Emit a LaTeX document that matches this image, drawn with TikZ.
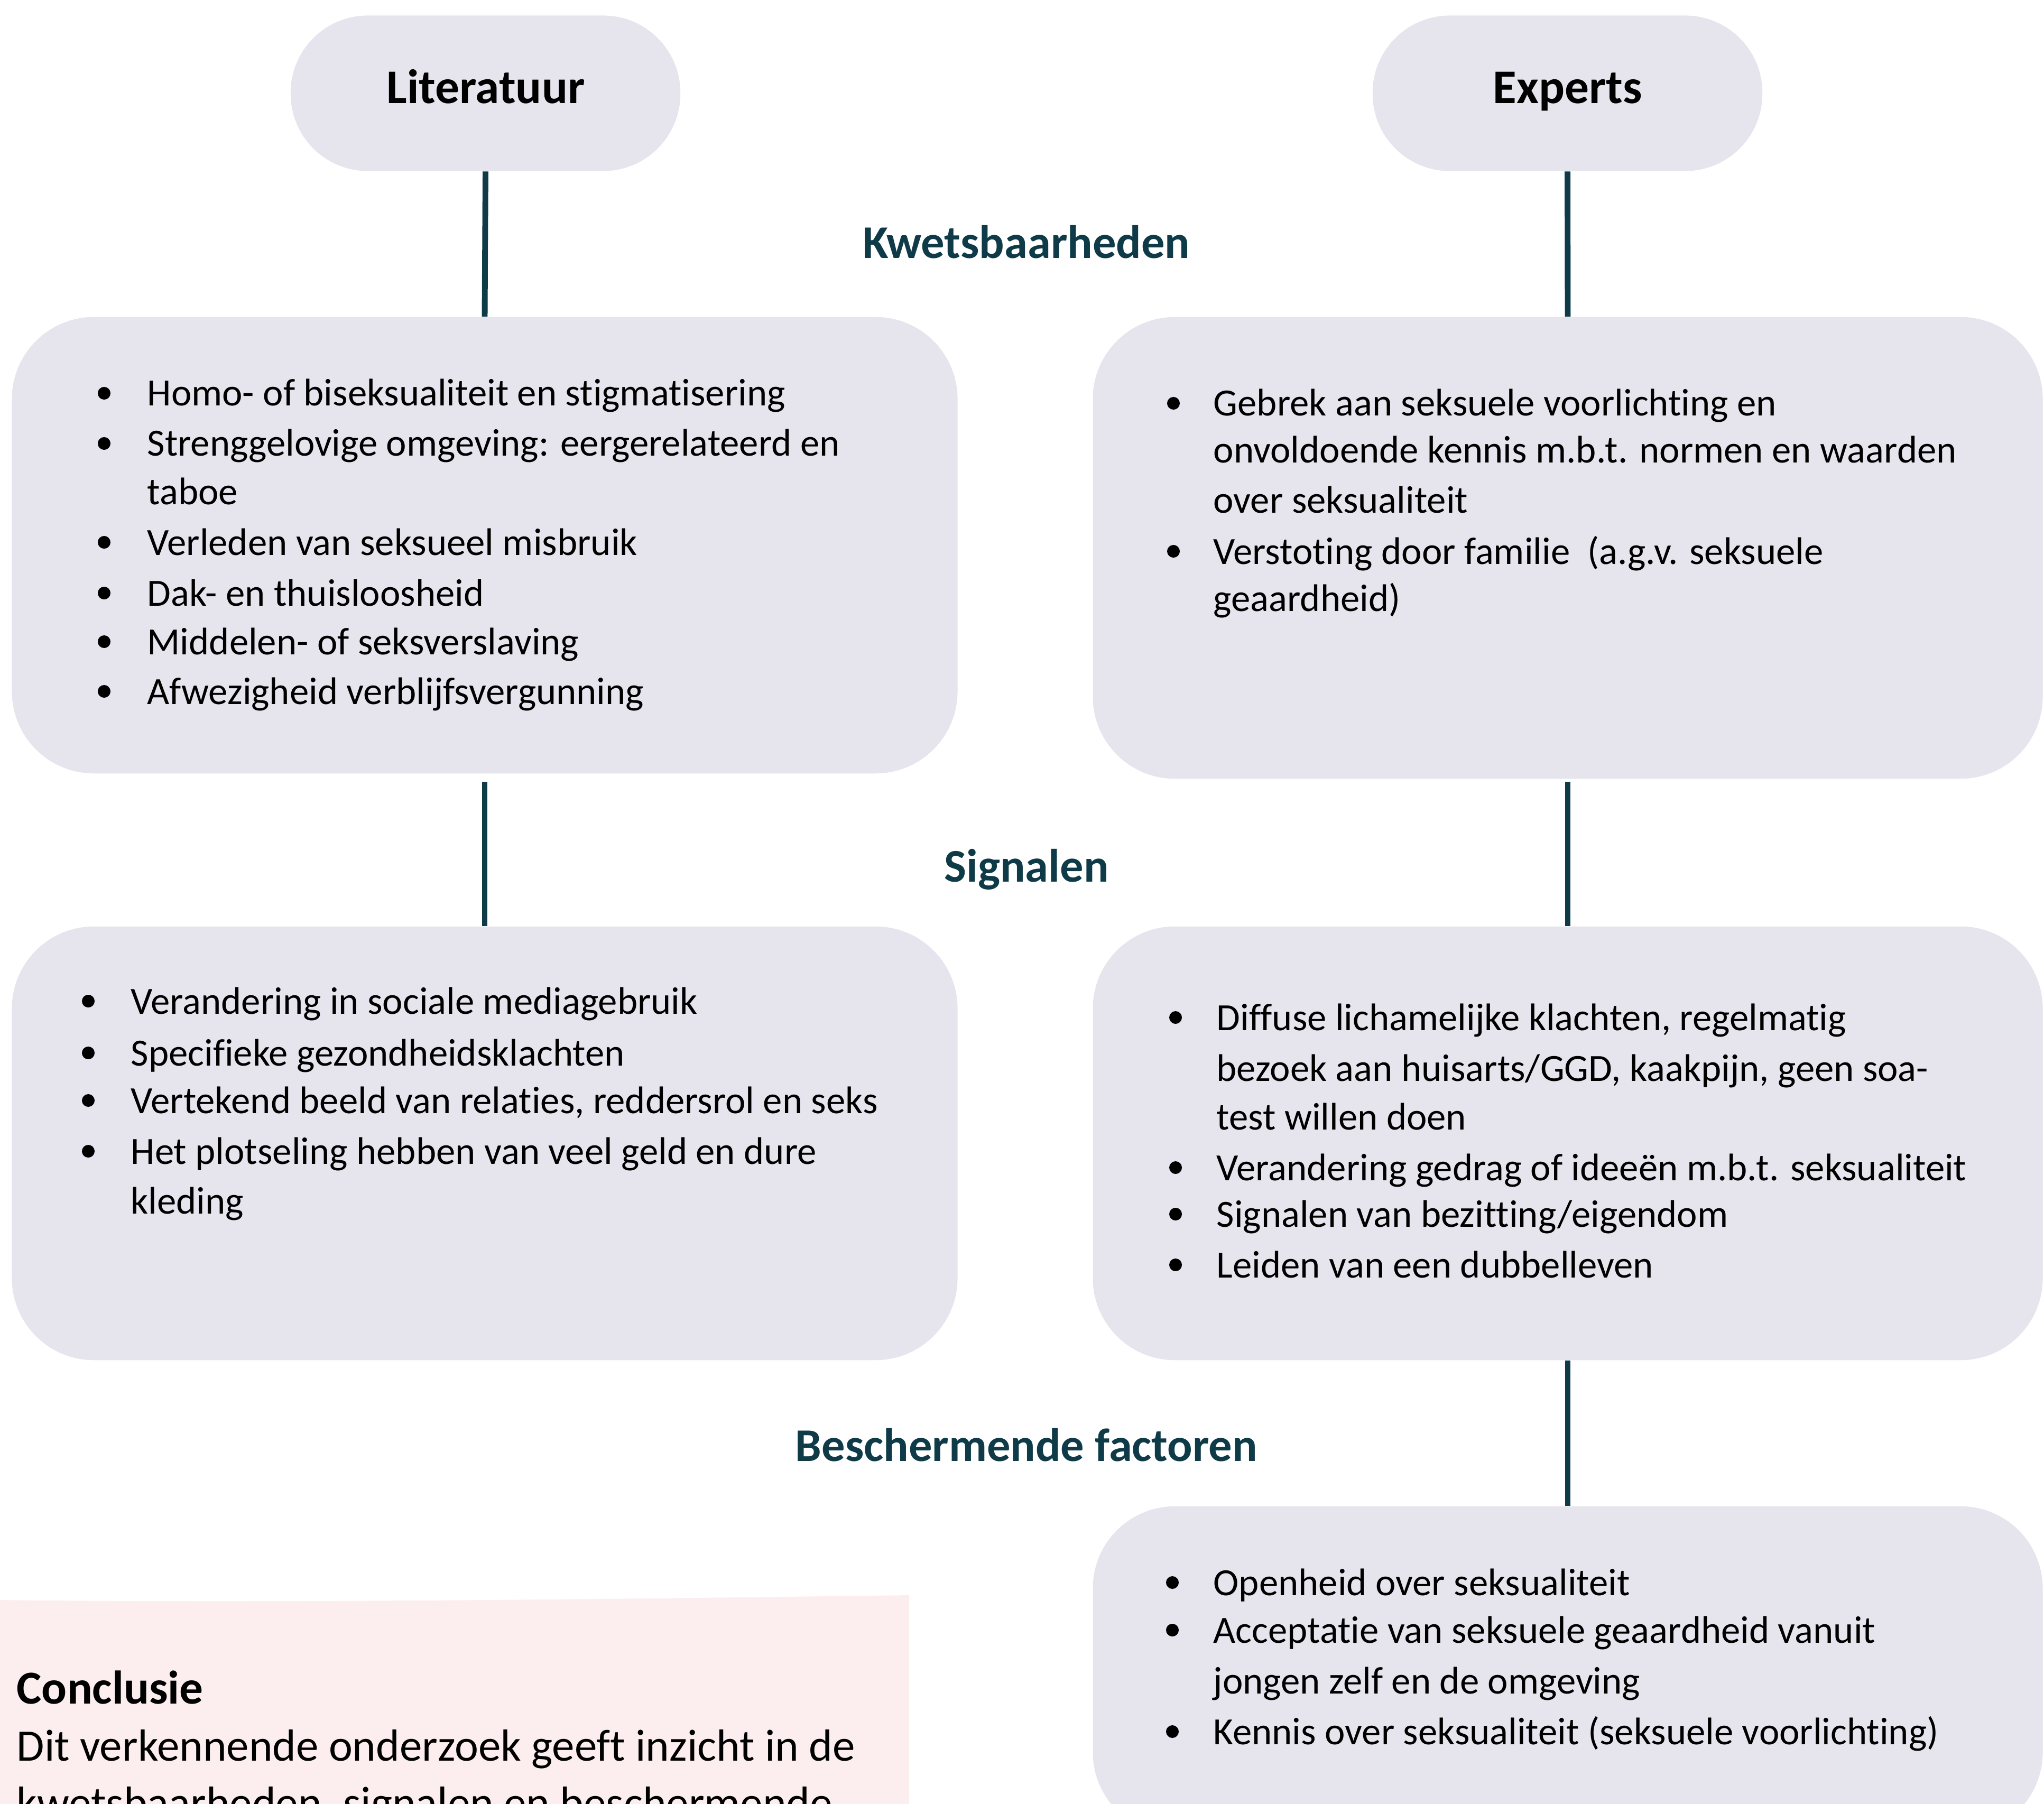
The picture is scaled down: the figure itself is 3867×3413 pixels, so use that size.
\documentclass[tikz,border=0pt]{standalone}
\usepackage{fontspec}
\setmainfont{Carlito}[Ligatures={NoCommon}]
\definecolor{boxfill}{HTML}{E6E4ED}
\definecolor{pinkfill}{HTML}{FCEEEE}
\definecolor{lineteal}{HTML}{0E3B47}
\newcommand\bodysize{\fontsize{20.7}{25}\selectfont}
\newcommand\headsize{\fontsize{25.2}{30}\selectfont}
\newcommand\pillsize{\fontsize{26}{30}\selectfont}
\newcommand\concsize{\fontsize{24.2}{30}\selectfont}
\newcommand\conctitlesize{\fontsize{25.4}{30}\selectfont}
\newcommand\myitem[5]{%
  \node[dot] (#1b) at (#2,#4-24) {};
  \node[txt] (#1) at (#3,#4) {#5};}
\newcommand\myline[4]{\node[txt] (#1) at (#2,#3) {#4};}
\begin{document}
\begin{tikzpicture}[x=0.01cm,y=-0.01cm,
  pill/.style={fill=boxfill, rounded corners=1.46cm, minimum width=7.37cm, minimum height=2.94cm, inner sep=0},
  panel/.style={fill=boxfill, rounded corners=1.55cm, inner sep=0},
  link/.style={draw=lineteal, line width=3.1pt},
  txt/.style={anchor=base west, inner sep=0, font=\bodysize},
  dot/.style={circle, fill=black, minimum size=0.24cm, inner sep=0},
  head/.style={anchor=base, inner sep=0, font=\headsize\bfseries, text=lineteal},
  pilltext/.style={anchor=base, inner sep=0, font=\pillsize\bfseries},
  conc/.style={anchor=base west, inner sep=0, font=\concsize}]
\useasboundingbox (0,0) rectangle (3867,3413);
\clip (0,0) rectangle (3867,3413);

% pills
\node[pill] (lit) at (918.5,176.5) {};
\node[pill] (exp) at (2965.5,176.5) {};
\node[pilltext] (littxt) at (919,196) {Literatuur};
\node[pilltext] (exptxt) at (2966,196) {Experts};

% panels
\node[panel, minimum width=17.88cm, minimum height=8.63cm] (l1) at (917,1031.5) {};
\node[panel, minimum width=17.96cm, minimum height=8.73cm] (r1) at (2966,1036.5) {};
\node[panel, minimum width=17.88cm, minimum height=8.20cm] (l2) at (917,2163) {};
\node[panel, minimum width=17.96cm, minimum height=8.20cm] (r2) at (2966,2163) {};
\node[panel, minimum width=17.96cm, minimum height=6.20cm] (r3) at (2966,3160) {};

% connectors
\draw[link] (lit.south) -- (l1.north);
\draw[link] ([yshift=-0.15cm]l1.south) -- (l2.north);
\draw[link] (exp.south) -- (r1.north);
\draw[link] ([yshift=-0.05cm]r1.south) -- (r2.north);
\draw[link] (r2.south) -- (r3.north);

% headings
\node[head] (h1) at (1942,489) {Kwetsbaarheden};
\node[head] (h2) at (1942,1668) {Signalen};
\node[head] (h3) at (1942,2764) {Beschermende factoren};

% L1
\myitem{la}{197}{278}{768}{Homo- of biseksualiteit en stigmatisering}
\myitem{lb}{197}{278}{863}{Strenggelovige omgeving: eergerelateerd en}
\myline{lc}{278}{954}{taboe}
\myitem{ld}{197}{278}{1050}{Verleden van seksueel misbruik}
\myitem{le}{197}{278}{1146}{Dak- en thuisloosheid}
\myitem{lf}{197}{278}{1238}{Middelen- of seksverslaving}
\myitem{lg}{197}{278}{1332}{Afwezigheid verblijfsvergunning}

% R1
\myitem{ra}{2220}{2295}{787}{Gebrek aan seksuele voorlichting en}
\myline{rb}{2295}{876}{onvoldoende kennis m.b.t. normen en waarden}
\myline{rc}{2295}{971}{over seksualiteit}
\myitem{rd}{2220}{2295}{1067}{Verstoting door familie\ \ (a.g.v. seksuele}
\myline{re}{2295}{1156}{geaardheid)}

% L2
\myitem{sa}{167}{247}{1918}{Verandering in sociale mediagebruik}
\myitem{sb}{167}{247}{2016}{Specifieke gezondheidsklachten}
\myitem{sc}{167}{247}{2106}{Vertekend beeld van relaties, reddersrol en seks}
\myitem{sd}{167}{247}{2202}{Het plotseling hebben van veel geld en dure}
\myline{se}{247}{2296}{kleding}

% R2
\myitem{ta}{2224}{2301}{1949}{Diffuse lichamelijke klachten, regelmatig}
\myline{tb}{2301}{2045}{bezoek aan huisarts/GGD, kaakpijn, geen soa-}
\myline{tc}{2301}{2137}{test willen doen}
\myitem{td}{2224}{2301}{2233}{Verandering gedrag of ideeën m.b.t. seksualiteit}
\myitem{te}{2224}{2301}{2321}{Signalen van bezitting/eigendom}
\myitem{tf}{2224}{2301}{2417}{Leiden van een dubbelleven}

% R3
\myitem{ua}{2218}{2295}{3018}{Openheid over seksualiteit}
\myitem{ub}{2218}{2295}{3108}{Acceptatie van seksuele geaardheid vanuit}
\myline{uc}{2295}{3204}{jongen zelf en de omgeving}
\myitem{ud}{2218}{2295}{3300}{Kennis over seksualiteit (seksuele voorlichting)}

% conclusion
\fill[pinkfill] (0,3027) .. controls (500,3033) and (1100,3026) .. (1720,3018) -- (1720,3413) -- (0,3413) -- cycle;
\node[conc, font=\conctitlesize\bfseries] (ctitle) at (31,3223) {Conclusie};
\node[conc] (cline1) at (31,3331) {Dit verkennende onderzoek geeft inzicht in de};
\node[conc] (cline2) at (31,3439) {kwetsbaarheden, signalen en beschermende};
\end{tikzpicture}
\end{document}
